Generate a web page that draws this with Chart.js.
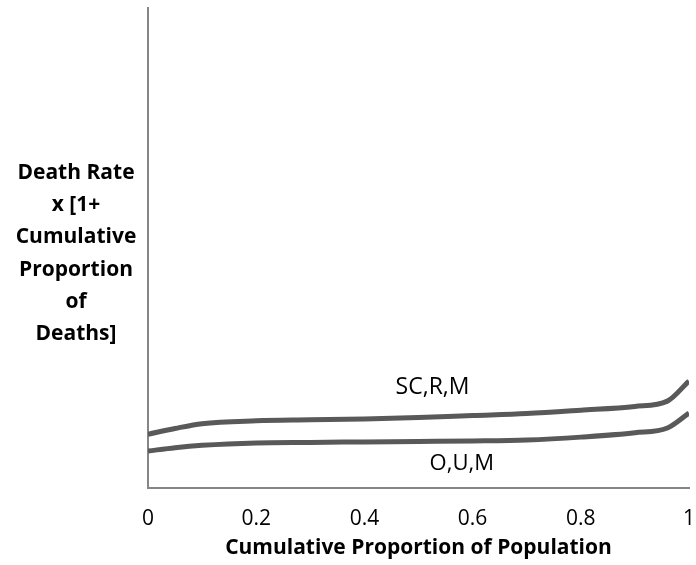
<!DOCTYPE html>
<html>
<head>
<meta charset="utf-8">
<script src="https://cdn.jsdelivr.net/npm/chart.js@4/dist/chart.umd.min.js"></script>
<style>
  html, body { margin: 0; padding: 0; background: #fff; }
  #wrap { width: 696px; height: 565px; }
</style>
</head>
<body>
<div id="wrap"><canvas id="c" width="696" height="565"></canvas></div>
<script>
// Cumulative proportion of population (x) for each sampled point
const popShare = [0, 0.05, 0.1, 0.2, 0.3, 0.4, 0.5, 0.6, 0.7, 0.8, 0.9, 0.96, 1];
// Death rate x [1 + cumulative proportion of deaths]
const scrmValues = [0.112, 0.124, 0.134, 0.140, 0.142, 0.144, 0.147, 0.151, 0.155, 0.162, 0.170, 0.181, 0.223];
const oumValues  = [0.077, 0.084, 0.089, 0.094, 0.095, 0.096, 0.097, 0.098, 0.100, 0.106, 0.115, 0.125, 0.156];
const seriesNames = ['SC,R,M', 'O,U,M'];
const xTicks = [0, 0.2, 0.4, 0.6, 0.8, 1];
const yTitleLines = ['Death Rate', 'x [1+', 'Cumulative', 'Proportion', 'of', 'Deaths]'];
const xTitle = 'Cumulative Proportion of Population';

const FONT = "'Open Sans', 'Liberation Sans', sans-serif";
const LINE_COLOR = '#595959';

const toPoints = vals => popShare.map((x, i) => ({ x, y: vals[i] }));

// Series names written next to their curves
const curveLabels = {
  id: 'curveLabels',
  afterDatasetsDraw(chart) {
    const { ctx, scales: { x, y } } = chart;
    ctx.save();
    ctx.fillStyle = '#000';
    ctx.textAlign = 'center';
    ctx.textBaseline = 'middle';
    ctx.font = `23px ${FONT}`;
    ctx.fillText(seriesNames[0], x.getPixelForValue(0.526), y.getPixelForValue(0.144) - 31);
    ctx.font = `22px ${FONT}`;
    ctx.fillText(seriesNames[1], x.getPixelForValue(0.58), y.getPixelForValue(0.098) + 23);
    ctx.restore();
  }
};

// Horizontal multi-line y axis title
const yTitle = {
  id: 'yTitle',
  afterDraw(chart) {
    const { ctx } = chart;
    ctx.save();
    ctx.font = `bold 21px ${FONT}`;
    ctx.fillStyle = '#000';
    ctx.textAlign = 'center';
    ctx.textBaseline = 'middle';
    yTitleLines.forEach((t, i) => ctx.fillText(t, 76, 173 + i * 32.2));
    ctx.restore();
  }
};

new Chart(document.getElementById('c'), {
  type: 'line',
  data: {
    datasets: [
      { label: seriesNames[0], data: toPoints(scrmValues) },
      { label: seriesNames[1], data: toPoints(oumValues) }
    ].map(d => Object.assign(d, {
      borderColor: LINE_COLOR,
      borderWidth: 5,
      pointRadius: 0,
      tension: 0.4,
      cubicInterpolationMode: 'monotone',
      fill: false
    }))
  },
  options: {
    responsive: false,
    animation: false,
    layout: { padding: { top: 8, right: 7, left: 0, bottom: 0 } },
    plugins: { legend: { display: false }, tooltip: { enabled: false } },
    scales: {
      x: {
        type: 'linear',
        min: 0, max: 1,
        afterBuildTicks: s => { s.ticks = xTicks.map(v => ({ value: v })); },
        afterFit: s => { s.height = 77; s.paddingLeft = 0; s.paddingRight = 0; },
        grid: { display: false, drawTicks: false },
        border: { color: '#868686', width: 2 },
        ticks: {
          color: '#000',
          font: { family: FONT, size: 21 },
          padding: 18,
          maxRotation: 0,
          callback: v => String(v)
        },
        title: {
          display: true,
          text: xTitle,
          color: '#000',
          font: { family: FONT, size: 21, weight: 'bold' },
          padding: { top: -1 }
        }
      },
      y: {
        min: 0, max: 1,
        afterFit: s => { s.width = 148; },
        grid: { display: false, drawTicks: false },
        border: { color: '#868686', width: 2 },
        ticks: { display: false }
      }
    }
  },
  plugins: [curveLabels, yTitle]
});
</script>
</body>
</html>
